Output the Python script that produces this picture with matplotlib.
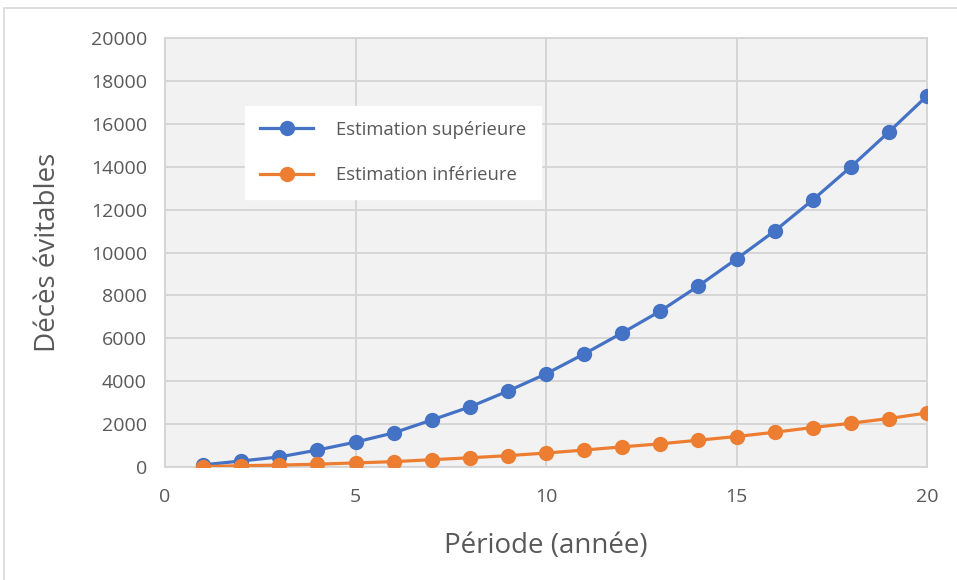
import matplotlib.pyplot as plt
from matplotlib.patches import Rectangle

# Values
periode = list(range(1, 21))
estimation_sup = [100, 280, 470, 790, 1160, 1590, 2190, 2800, 3540, 4340,
                  5270, 6250, 7270, 8440, 9700, 11000, 12450, 13990, 15620, 17300]
estimation_inf = [20, 60, 90, 130, 190, 250, 340, 430, 530, 650,
                  790, 940, 1080, 1250, 1420, 1620, 1840, 2040, 2260, 2520]
x_ticks = [0, 5, 10, 15, 20]
y_ticks = list(range(0, 20001, 2000))

TEXT = '#595959'
plt.rcParams['font.family'] = ['Open Sans', 'DejaVu Sans']

fig = plt.figure(figsize=(9.57, 5.8), dpi=100)
ax = fig.add_axes([165 / 957, 1 - 467 / 580, (927 - 165) / 957, (467 - 38) / 580])

# light frame around the whole picture
fig.patches.append(Rectangle((4 / 957, -0.01), 1.0, 1 - 8 / 580 + 0.01,
                             transform=fig.transFigure, fill=False,
                             edgecolor='#d9d9d9', linewidth=1.2))

ax.set_facecolor('#f2f2f2')
ax.plot(periode, estimation_sup, '-o', color='#4472C4', lw=2.3, ms=10,
        label='Estimation supérieure', zorder=3)
ax.plot(periode, estimation_inf, '-o', color='#ED7D31', lw=2.3, ms=10,
        label='Estimation inférieure', zorder=3)

ax.set_xlim(0, 20)
ax.set_ylim(0, 20000)
ax.set_xticks(x_ticks)
ax.set_yticks(y_ticks)
ax.grid(True, color='#d4d4d4', lw=1.3)
ax.set_axisbelow(True)
for s in ax.spines.values():
    s.set_color('#d4d4d4')
    s.set_linewidth(1.3)
ax.tick_params(length=0, labelsize=14, colors=TEXT)
ax.tick_params(axis='y', pad=13)
ax.tick_params(axis='x', pad=15)
for lab in ax.get_xticklabels() + ax.get_yticklabels():
    lab.set_clip_on(False)

ax.set_xlabel('Période (année)', fontsize=20, color=TEXT, labelpad=19)
ax.set_ylabel('Décès évitables', fontsize=20, color=TEXT, labelpad=21)

leg = ax.legend(loc='upper left', bbox_to_anchor=((245 - 165) / 762, 1 - (106 - 38) / 429),
                frameon=True, fancybox=False, edgecolor='white', framealpha=1,
                fontsize=13.3, labelcolor=TEXT, handlelength=2.9, handletextpad=1.2,
                labelspacing=1.5, borderpad=0.8, borderaxespad=0)

fig.savefig('out.png', dpi=100)
